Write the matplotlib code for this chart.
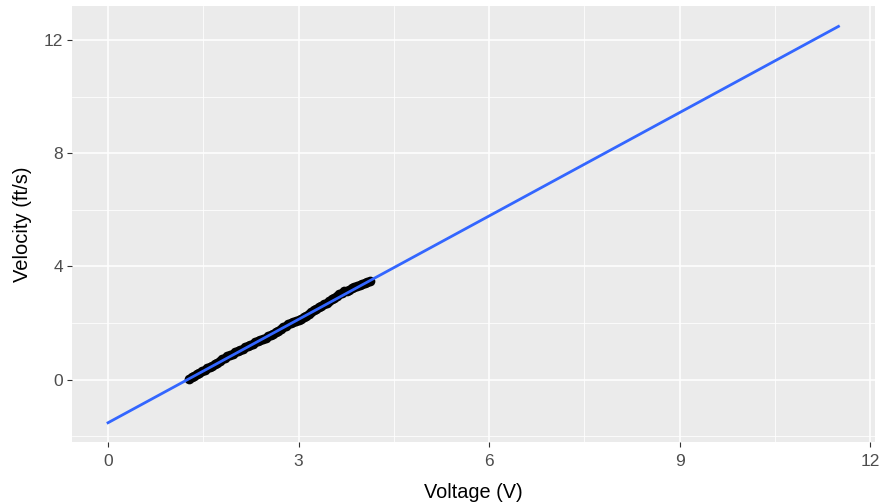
import matplotlib
matplotlib.use("Agg")
import matplotlib.pyplot as plt
from matplotlib.ticker import MultipleLocator

plt.rcParams['font.family'] = ['Liberation Sans', 'DejaVu Sans']

# measured data (voltage V, velocity ft/s)
voltage = [1.28, 1.32, 1.36, 1.40, 1.44, 1.48, 1.52, 1.56, 1.60, 1.64, 1.68, 1.72,
           1.76, 1.80, 1.84, 1.88, 1.92, 1.96, 2.00, 2.04, 2.08, 2.12, 2.16, 2.20,
           2.24, 2.28, 2.32, 2.36, 2.40, 2.44, 2.48, 2.52, 2.56, 2.60, 2.64, 2.68,
           2.72, 2.76, 2.80, 2.84, 2.88, 2.92, 2.96, 3.00, 3.04, 3.08, 3.12, 3.16,
           3.20, 3.24, 3.28, 3.32, 3.36, 3.40, 3.44, 3.48, 3.52, 3.56, 3.60, 3.64,
           3.68, 3.72, 3.76, 3.80, 3.84, 3.88, 3.92, 3.96, 4.00, 4.04, 4.08, 4.12]
velocity = [0.02, 0.10, 0.12, 0.20, 0.22, 0.30, 0.33, 0.41, 0.44, 0.50, 0.56, 0.60,
            0.66, 0.72, 0.75, 0.83, 0.86, 0.90, 0.97, 1.01, 1.04, 1.10, 1.15, 1.18,
            1.24, 1.27, 1.33, 1.36, 1.42, 1.45, 1.49, 1.55, 1.58, 1.63, 1.69, 1.73,
            1.80, 1.85, 1.90, 1.96, 2.00, 2.04, 2.08, 2.10, 2.15, 2.20, 2.26, 2.33,
            2.40, 2.45, 2.51, 2.57, 2.62, 2.68, 2.72, 2.79, 2.84, 2.90, 2.96, 3.02,
            3.08, 3.12, 3.15, 3.18, 3.23, 3.26, 3.30, 3.34, 3.37, 3.41, 3.45, 3.50]

# fitted line endpoints
fit_voltage = [0.0, 11.5]
fit_velocity = [-1.52, 12.48]

x_ticks = [0, 3, 6, 9, 12]
y_ticks = [0, 4, 8, 12]

fig = plt.figure(figsize=(8.81, 5.03), dpi=100)
ax = fig.add_axes([71.5/881, 1-442/503, (875-71.5)/881, (442-6)/503])
ax.set_facecolor('#EBEBEB')

ax.set_xlim(-0.575, 12.075)
ax.set_ylim(-2.2, 13.2)
ax.set_xticks(x_ticks)
ax.set_yticks(y_ticks)
ax.xaxis.set_minor_locator(MultipleLocator(1.5))
ax.yaxis.set_minor_locator(MultipleLocator(2))
ax.grid(which='major', color='white', linewidth=1.1)
ax.grid(which='minor', color='white', linewidth=0.55)
ax.set_axisbelow(True)
for s in ax.spines.values():
    s.set_visible(False)
ax.tick_params(which='major', length=3.6, width=0.8, color='#333333',
               labelcolor='#4D4D4D', labelsize=12.5)
ax.tick_params(axis='x', which='major', pad=5)
ax.tick_params(axis='y', which='major', pad=2.5)
ax.tick_params(which='minor', length=0)

ax.plot(voltage, velocity, 'o', color='black', markersize=7, markeredgewidth=0)
ax.plot(fit_voltage, fit_velocity, color='#3366FF', linewidth=2)

ax.set_xlabel('Voltage (V)', fontsize=14.3, color='black')
ax.set_ylabel('Velocity (ft/s)', fontsize=14.5, color='black')
ax.xaxis.set_label_coords(0.5, -0.094)
ax.yaxis.set_label_coords(-0.049, 0.5)

fig.savefig('out.png', dpi=100)
